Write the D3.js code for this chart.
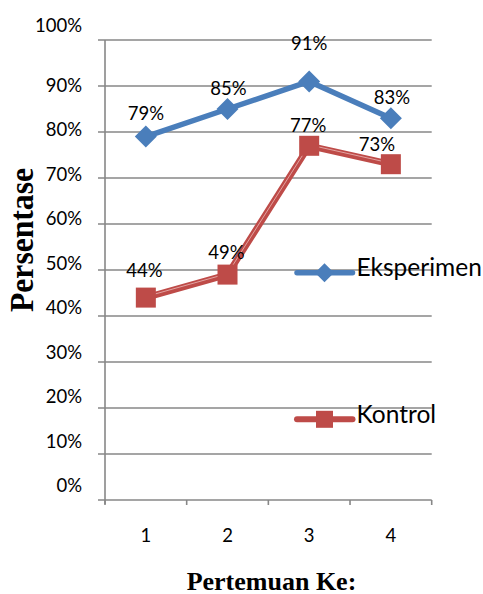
<!DOCTYPE html>
<html>
<head>
<meta charset="utf-8">
<script src="https://cdn.jsdelivr.net/npm/d3@7"></script>
<style>
html,body{margin:0;padding:0;background:#fff;}
svg{display:block;}
</style>
</head>
<body>
<script>
// ---- data ----
const categories = ["1", "2", "3", "4"];
const seriesNames = ["Eksperimen", "Kontrol"];
const eksperimen = [0.79, 0.85, 0.91, 0.83];
const kontrol = [0.44, 0.49, 0.77, 0.73];
const yTickValues = [0, 0.1, 0.2, 0.3, 0.4, 0.5, 0.6, 0.7, 0.8, 0.9, 1.0];
const xTitle = "Pertemuan Ke:";
const yTitle = "Persentase";

// ---- layout / style ----
const W = 483, H = 594;
const plot = {left: 105, right: 431.7, top: 40, bottom: 500};
const colors = {Eksperimen: "#4A7EBB", Kontrol: "#BE4B48"};
const gridColor = "#878787";
const sansFont = "Lato, 'Liberation Sans', Arial, sans-serif";
const serifFont = "'Liberation Serif', 'Times New Roman', serif";
// manual nudges of the data labels (dx, dy of baseline relative to point)
const labelNudge = {
  Eksperimen: [[0, -17], [1, -14], [0, -31], [1, -14]],
  Kontrol: [[-1.5, -21], [-1, -16], [-1, -14], [-14, -13]]
};

const svg = d3.select("body").append("svg").attr("width", W).attr("height", H);

const x = d3.scalePoint().domain(categories).range([plot.left, plot.right]).padding(0.5);
const xBand = d3.scaleBand().domain(categories).range([plot.left, plot.right]);
const y = d3.scaleLinear().domain([0, 1]).range([plot.bottom, plot.top]);
// tick labels in the reference sit slightly off their gridlines
const yLabel = d3.scaleLinear().domain([0, 0.9, 1]).range([492.3, 91.7, 31.7]);

// gridlines
svg.append("g").selectAll("line").data(yTickValues).join("line")
  .attr("x1", plot.left - 7).attr("x2", plot.right)
  .attr("y1", d => y(d)).attr("y2", d => y(d))
  .attr("stroke", gridColor).attr("stroke-width", 1.6);

// vertical axis
svg.append("line")
  .attr("x1", plot.left).attr("x2", plot.left)
  .attr("y1", y(1)).attr("y2", plot.bottom + 4)
  .attr("stroke", gridColor).attr("stroke-width", 1.6);

// x tick marks at category boundaries
const bounds = categories.map(c => xBand(c)).concat([plot.right]);
svg.append("g").selectAll("line").data(bounds).join("line")
  .attr("x1", d => d).attr("x2", d => d)
  .attr("y1", plot.bottom).attr("y2", plot.bottom + 5)
  .attr("stroke", gridColor).attr("stroke-width", 1.6);

// y tick labels
svg.append("g").selectAll("text").data(yTickValues).join("text")
  .attr("x", 82).attr("y", d => yLabel(d))
  .attr("text-anchor", "end")
  .attr("font-family", sansFont).attr("font-size", 18.5).attr("fill", "#000")
  .text(d => d3.format(".0%")(d));

// x category labels
svg.append("g").selectAll("text").data(categories).join("text")
  .attr("x", d => x(d)).attr("y", 542)
  .attr("text-anchor", "middle")
  .attr("font-family", sansFont).attr("font-size", 18.5).attr("fill", "#000")
  .text(d => d);

// axis titles
svg.append("text")
  .attr("x", 271.5).attr("y", 589.5)
  .attr("text-anchor", "middle")
  .attr("font-family", serifFont).attr("font-weight", "bold").attr("font-size", 26)
  .text(xTitle);

svg.append("text")
  .attr("transform", "translate(33,240) rotate(-90)")
  .attr("text-anchor", "middle")
  .attr("font-family", serifFont).attr("font-weight", "bold").attr("font-size", 33)
  .attr("textLength", 144).attr("lengthAdjust", "spacingAndGlyphs")
  .text(yTitle);

const line = d3.line().x(d => x(d.c)).y(d => y(d.v));
const toPts = arr => arr.map((v, i) => ({c: categories[i], v}));
const ePts = toPts(eksperimen), kPts = toPts(kontrol);

const diamond = (cx, cy, r) => `M${cx},${cy - r}L${cx + r},${cy}L${cx},${cy + r}L${cx - r},${cy}Z`;

// Eksperimen series
svg.append("path").datum(ePts).attr("d", line)
  .attr("fill", "none").attr("stroke", colors.Eksperimen).attr("stroke-width", 5.5)
  .attr("stroke-linejoin", "round");
svg.append("g").selectAll("path").data(ePts).join("path")
  .attr("d", d => diamond(x(d.c), y(d.v), 11))
  .attr("fill", colors.Eksperimen);

// Kontrol series
svg.append("path").datum(kPts).attr("d", line)
  .attr("fill", "none").attr("stroke", colors.Kontrol).attr("stroke-width", 6.5)
  .attr("stroke-linejoin", "round");
svg.append("path").datum(kPts).attr("d", line)
  .attr("fill", "none").attr("stroke", "#E3A3A1").attr("stroke-width", 1)
  .attr("transform", "translate(0,-1)")
  .attr("stroke-linejoin", "round");
svg.append("g").selectAll("rect").data(kPts).join("rect")
  .attr("x", d => x(d.c) - 10).attr("y", d => y(d.v) - 10)
  .attr("width", 20).attr("height", 20)
  .attr("fill", colors.Kontrol);

// data labels
const addLabels = (pts, name) => {
  svg.append("g").selectAll("text").data(pts).join("text")
    .attr("x", (d, i) => x(d.c) + labelNudge[name][i][0])
    .attr("y", (d, i) => y(d.v) + labelNudge[name][i][1])
    .attr("text-anchor", "middle")
    .attr("font-family", sansFont).attr("font-size", 18.5).attr("fill", "#000")
    .text(d => d3.format(".0%")(d.v));
};
addLabels(ePts, "Eksperimen");
addLabels(kPts, "Kontrol");

// legend
const legendY = {Eksperimen: 272.7, Kontrol: 419.3};
seriesNames.forEach(name => {
  const g = svg.append("g");
  const ly = legendY[name];
  g.append("line").attr("x1", 297).attr("x2", 352.5).attr("y1", ly).attr("y2", ly)
    .attr("stroke", colors[name]).attr("stroke-width", name === "Kontrol" ? 6 : 5.5)
    .attr("stroke-linecap", "round");
  if (name === "Eksperimen") {
    g.append("path").attr("d", diamond(324.5, ly, 9.5)).attr("fill", colors[name]);
  } else {
    g.append("rect").attr("x", 324.5 - 8.5).attr("y", ly - 8.5).attr("width", 17).attr("height", 17)
      .attr("fill", colors[name]);
  }
  g.append("text").attr("x", 356.5).attr("y", ly + 3.5)
    .attr("font-family", sansFont).attr("font-size", 24.5).attr("fill", "#000")
    .text(name);
});
</script>
</body>
</html>
